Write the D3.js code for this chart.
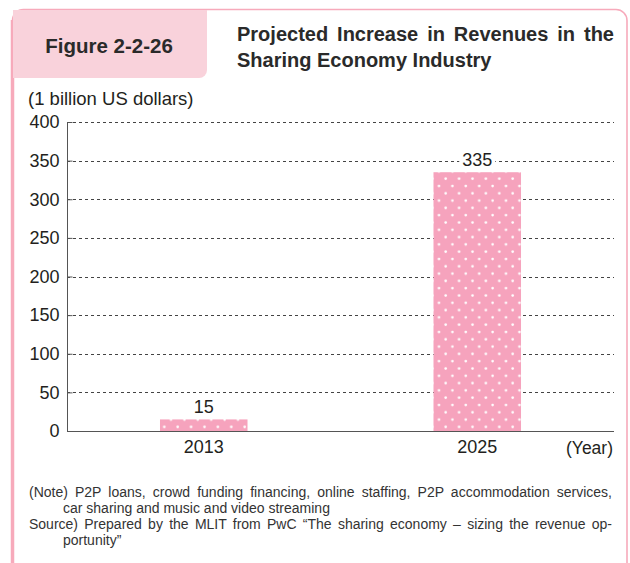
<!DOCTYPE html>
<html>
<head>
<meta charset="utf-8">
<script src="https://cdn.jsdelivr.net/npm/d3@7"></script>
<style>
  html, body { margin: 0; padding: 0; background: #fff; }
  svg { display: block; }
  text { font-family: "Liberation Sans", Arial, Helvetica, sans-serif; fill: #231f20; }
</style>
</head>
<body>
<svg id="chart" width="630" height="563"></svg>
<script>
// Data
const years = ["2013", "2025"];
const revenues = [15, 335];
const yTicks = [0, 50, 100, 150, 200, 250, 300, 350, 400];

const figureLabel = "Figure 2-2-26";
const titleLines = ["Projected Increase in Revenues in the", "Sharing Economy Industry"];
const unitLabel = "(1 billion US dollars)";
const xUnitLabel = "(Year)";
const noteLines = [
  { text: "(Note) P2P loans, crowd funding financing, online staffing, P2P accommodation services,", indent: false, justify: true },
  { text: "car sharing and music and video streaming", indent: true, justify: false },
  { text: "Source) Prepared by the MLIT from PwC \u201cThe sharing economy \u2013 sizing the revenue op-", indent: false, justify: true },
  { text: "portunity\u201d", indent: true, justify: false }
];

const svg = d3.select("#chart");
const pink = "#f6a3bd";
const frameColor = "#f7aabb";

// Frame around the figure
const frame = d3.path();
frame.moveTo(12.5, 575);
frame.lineTo(12.5, 20);
frame.arcTo(12.5, 9.5, 23.5, 9.5, 11);
frame.lineTo(616, 9.5);
frame.arcTo(627, 9.5, 627, 20.5, 11);
frame.lineTo(627, 575);
svg.append("path").attr("d", frame.toString())
  .attr("fill", "none").attr("stroke", frameColor).attr("stroke-width", 1.6);
svg.append("line").attr("x1", 12.5).attr("x2", 12.5).attr("y1", 20).attr("y2", 575)
  .attr("stroke", frameColor).attr("stroke-width", 3.5);

// Figure number tab
const tab = d3.path();
tab.moveTo(13, 10);
tab.lineTo(207, 10);
tab.lineTo(207, 70);
tab.arcTo(207, 78, 199, 78, 8);
tab.lineTo(13, 78);
tab.closePath();
svg.append("path").attr("d", tab.toString()).attr("fill", "#f9d2db");
svg.append("text").attr("x", 109).attr("y", 53).attr("text-anchor", "middle")
  .attr("font-size", 20.5).attr("font-weight", "bold").style("fill", "#2a2a2a")
  .text(figureLabel);

function justify(el, t, width) {
  const w = el.node().getComputedTextLength();
  const gaps = (t.match(/ /g) || []).length;
  if (gaps > 0 && w < width) el.attr("word-spacing", (width - w) / gaps);
}

// Title, first line spread to full width
const titleX = 237, titleRight = 614;
titleLines.forEach((t, i) => {
  const el = svg.append("text").attr("x", titleX).attr("y", 41 + i * 26)
    .attr("font-size", 20).attr("font-weight", "bold").style("fill", "#2a2a2a").text(t);
  if (i === 0) justify(el, t, titleRight - titleX);
});

// Chart area
const plot = { left: 67, right: 614, top: 122, bottom: 431 };
const y = d3.scaleLinear().domain([0, 400]).range([plot.bottom, plot.top]);
const x = d3.scaleBand().domain(years).range([plot.left, plot.right]).paddingInner(0.68).paddingOuter(0.34);

// Dotted fill pattern for bars
const defs = svg.append("defs");
const pat = defs.append("pattern").attr("id", "dots")
  .attr("patternUnits", "userSpaceOnUse").attr("width", 13.4).attr("height", 14.6)
  .attr("x", 0).attr("y", 0);
pat.append("rect").attr("width", 13.4).attr("height", 14.6).attr("fill", pink);
pat.append("circle").attr("cx", 3.5).attr("cy", 3.5).attr("r", 1.3).attr("fill", "#fff");
pat.append("circle").attr("cx", 10.2).attr("cy", 10.8).attr("r", 1.3).attr("fill", "#fff");

// Gridlines
svg.append("g").selectAll("line").data(yTicks.filter(d => d > 0)).join("line")
  .attr("x1", plot.left).attr("x2", plot.right)
  .attr("y1", d => Math.round(y(d)) + 0.5).attr("y2", d => Math.round(y(d)) + 0.5)
  .attr("stroke", "#444").attr("stroke-width", 1).attr("stroke-dasharray", "3,3");

// Bars
svg.append("g").selectAll("rect").data(revenues).join("rect")
  .attr("x", (d, i) => x(years[i]))
  .attr("width", x.bandwidth())
  .attr("y", d => y(d))
  .attr("height", d => y(0) - y(d))
  .attr("fill", "url(#dots)");

// Value labels on a white backing so gridlines break around them
const labels = svg.append("g").selectAll("g").data(revenues).join("g")
  .attr("transform", (d, i) => `translate(${x(years[i]) + x.bandwidth() / 2},${y(d) - 6})`);
labels.append("text")
  .attr("text-anchor", "middle").attr("font-size", 18)
  .text(d => d);
labels.each(function () {
  const g = d3.select(this);
  const b = g.select("text").node().getBBox();
  g.insert("rect", "text")
    .attr("x", b.x - 3).attr("y", b.y + 2).attr("width", b.width + 6).attr("height", b.height - 4)
    .attr("fill", "#fff");
});

// Y axis: ticks point inward
const yAxis = d3.axisLeft(y).tickValues(yTicks).tickSize(0).tickPadding(8);
const gy = svg.append("g").attr("transform", `translate(${plot.left + 0.5},0)`).call(yAxis);
gy.select(".domain").attr("stroke", "#555").attr("d", `M0,${y(400)}V${y(0)}`);
gy.selectAll(".tick line").attr("stroke", "#555").attr("x1", 0).attr("x2", 5);
gy.selectAll(".tick text").attr("font-size", 18).attr("font-family", null)
  .style("fill", "#231f20");

// X axis
const xAxis = d3.axisBottom(x).tickSize(0).tickPadding(9);
const gx = svg.append("g").attr("transform", `translate(0,${y(0) + 0.5})`).call(xAxis);
gx.select(".domain").attr("stroke", "#555").attr("d", `M${plot.left},0H${plot.right}`);
gx.selectAll(".tick text").attr("font-size", 18).attr("font-family", null)
  .style("fill", "#231f20");

svg.append("text").attr("x", 613).attr("y", 454).attr("text-anchor", "end")
  .attr("font-size", 17.5).text(xUnitLabel);
svg.append("text").attr("x", 28).attr("y", 105).attr("font-size", 18.5).text(unitLabel);

// Notes
noteLines.forEach((n, i) => {
  const el = svg.append("text").attr("x", n.indent ? 63 : 29).attr("y", 497 + i * 16)
    .attr("font-size", 14).style("fill", "#333").text(n.text);
  if (n.justify) justify(el, n.text, 612 - 29);
});
</script>
</body>
</html>
